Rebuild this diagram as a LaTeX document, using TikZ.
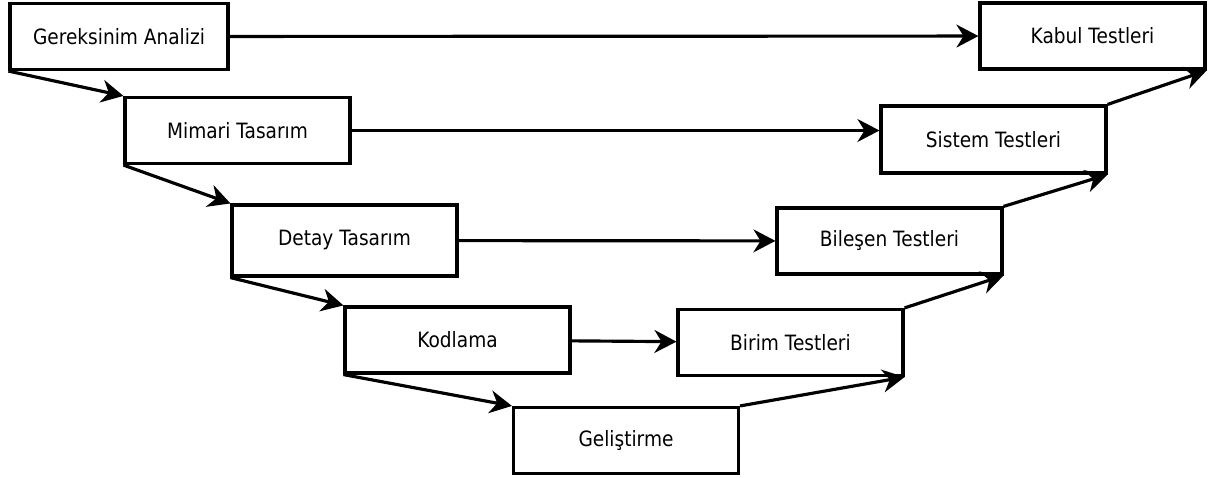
\documentclass[tikz,border=0pt]{standalone}
\usepackage{fontspec}
\setmainfont{DejaVu Sans}[FakeStretch=0.88]
\usetikzlibrary{arrows.meta}

\begin{document}
\begin{tikzpicture}[x=0.02cm,y=-0.02cm,>={Stealth[length=12.5pt,width=13pt,inset=4pt]},line width=1.8pt,
      phase/.style={draw,rectangle,minimum width=4.5cm,minimum height=1.32cm,inner sep=0pt,font=\fontsize{12}{14}\selectfont}]
      \useasboundingbox (0,0) rectangle (1213,477);

      % left branch
      \node[phase,minimum width=4.36cm] (ga) at (119,36.5) {Gereksinim Analizi};
      \node[phase] (mt) at (237.5,130.5) {Mimari Tasarım};
      \node[phase,minimum height=1.42cm] (dt) at (344.5,240.5) {Detay Tasarım};
      \node[phase] (kod) at (457.5,340) {Kodlama};
      \node[phase] (gel) at (626,440.5) {Geliştirme};

      % right branch
      \node[phase] (bt) at (790.5,342.5) {Birim Testleri};
      \node[phase] (bst) at (889.5,241) {Bileşen Testleri};
      \node[phase,minimum height=1.34cm] (st) at (993.5,139.5) {Sistem Testleri};
      \node[phase] (kt) at (1092.5,36) {Kabul Testleri};

      \path[->]
      (ga.south west) edge (mt.north west)
      (mt.south west) edge (dt.north west)
      (dt.south west) edge (kod.north west)
      (kod.south west) edge (gel.north west)

      (gel.north east) edge (bt.south east)
      (bt.north east) edge (bst.south east)
      (bst.north east) edge (st.south east)
      (st.north east) edge (kt.south east)

      (ga) edge (kt)
      (mt) edge (mt -| st.west)
      (dt) edge (bst)
      (kod) edge (bt)
      ;
    \end{tikzpicture}
\end{document}
